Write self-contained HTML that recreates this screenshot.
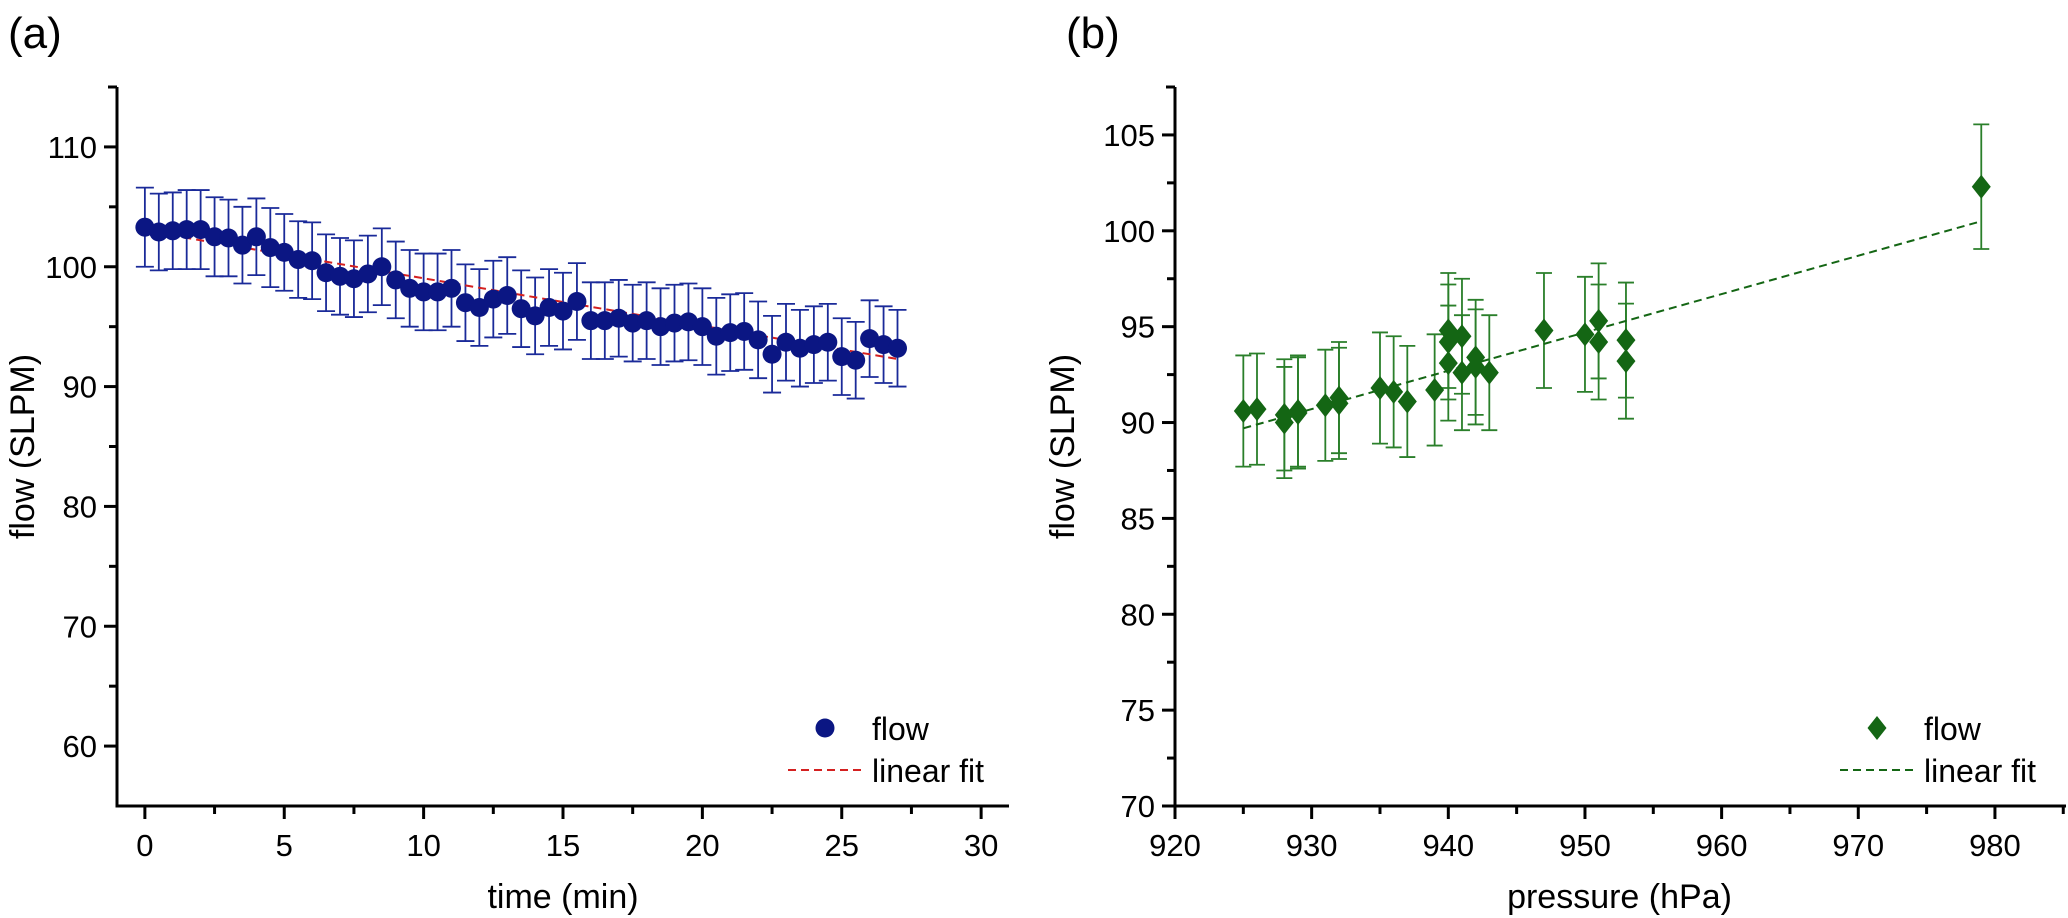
<!DOCTYPE html>
<html><head><meta charset="utf-8">
<style>
html,body{margin:0;padding:0;background:#fff}
svg{display:block;font-family:"Liberation Sans",Arial,sans-serif}
</style></head>
<body>
<svg id="chart" width="2068" height="918" viewBox="0 0 2068 918" xmlns="http://www.w3.org/2000/svg">
<text x="8" y="48" font-size="44">(a)</text>
<text x="1066" y="48" font-size="44">(b)</text>
<g id="pa"></g>
<g id="pb"></g>
</svg>
<script>
// Panel (a) data
const aTimes = [0,0.5,1,1.5,2,2.5,3,3.5,4,4.5,5,5.5,6,6.5,7,7.5,8,8.5,9,9.5,10,10.5,11,11.5,12,12.5,13,13.5,14,14.5,15,15.5,16,16.5,17,17.5,18,18.5,19,19.5,20,20.5,21,21.5,22,22.5,23,23.5,24,24.5,25,25.5,26,26.5,27];
const aFlow = [103.3,102.9,103.0,103.1,103.1,102.5,102.4,101.8,102.5,101.6,101.2,100.6,100.5,99.5,99.2,99.0,99.4,100.0,98.9,98.2,97.9,97.9,98.2,97.0,96.6,97.3,97.6,96.5,95.9,96.6,96.3,97.1,95.5,95.5,95.7,95.3,95.5,95.0,95.3,95.4,95.0,94.2,94.5,94.6,93.9,92.7,93.7,93.2,93.5,93.7,92.5,92.2,94.0,93.5,93.2];
const aErr = [3.3,3.2,3.2,3.3,3.3,3.3,3.2,3.2,3.2,3.3,3.2,3.2,3.2,3.2,3.2,3.2,3.2,3.2,3.2,3.2,3.2,3.2,3.2,3.2,3.2,3.2,3.2,3.2,3.2,3.2,3.2,3.2,3.2,3.2,3.2,3.2,3.2,3.2,3.2,3.2,3.2,3.2,3.2,3.2,3.2,3.2,3.2,3.2,3.2,3.2,3.2,3.2,3.2,3.2,3.2];
const aFitX = [0,27];
const aFitY = [103.0,92.3];
const aXTicks = [0,5,10,15,20,25,30];
const aYTicks = [60,70,80,90,100,110];

// Panel (b) data
const bPress = [925,926,928,928,929,929,931,932,932,935,936,937,939,940,940,940,941,941,942,942,943,947,950,951,951,953,953,979];
const bFlow = [90.6,90.7,90.0,90.4,90.5,90.6,90.9,91.0,91.3,91.8,91.6,91.1,91.7,94.8,94.2,93.1,94.5,92.6,93.4,92.9,92.6,94.8,94.6,95.3,94.2,94.3,93.2,102.3];
const bErr = [2.9,2.9,2.9,2.9,2.9,2.9,2.9,2.9,2.9,2.9,2.9,2.9,2.9,3.0,3.0,3.0,3.0,3.0,3.0,3.0,3.0,3.0,3.0,3.0,3.0,3.0,3.0,3.25];
const bFitX = [925,979];
const bFitY = [89.7,100.5];
const bXTicks = [920,930,940,950,960,970,980];
const bYTicks = [70,75,80,85,90,95,100,105];

const NS = "http://www.w3.org/2000/svg";
function mk(parent, tag, attrs, text){
  const e = document.createElementNS(NS, tag);
  for (const k in attrs) e.setAttribute(k, attrs[k]);
  if (text !== undefined) e.textContent = text;
  parent.appendChild(e);
  return e;
}

function drawPanel(g, cfg){
  const sx = v => cfg.x0 + (v - cfg.xmin) * (cfg.x1 - cfg.x0) / (cfg.xmax - cfg.xmin);
  const sy = v => cfg.y0 - (v - cfg.ymin) * (cfg.y0 - cfg.y1) / (cfg.ymax - cfg.ymin);
  const ya = mk(g, 'line', {x1:cfg.x0, y1:cfg.y1, x2:cfg.x0, y2:cfg.y0+1.5, stroke:'#000','stroke-width':3});
  
  
  const xa = mk(g, 'line', {x1:cfg.x0-1.5, y1:cfg.y0, x2:cfg.x1, y2:cfg.y0, stroke:'#000','stroke-width':3});
  
  
  mk(g, 'line', {x1:cfg.x0-9, y1:cfg.y1, x2:cfg.x0, y2:cfg.y1, stroke:'#000','stroke-width':3});
  cfg.yTicks.forEach((v,i) => {
    const y = sy(v);
    mk(g, 'line', {x1:cfg.x0-13, y1:y, x2:cfg.x0, y2:y, stroke:'#000','stroke-width':3});
    const t = mk(g, 'text', {x:cfg.x0-20, y:y+11, 'font-size':31, 'text-anchor':'end'}, String(v));
    
    
    const mv = v + cfg.yStep/2;
    if (mv < cfg.ymax) { const my = sy(mv); mk(g, 'line', {x1:cfg.x0-8, y1:my, x2:cfg.x0, y2:my, stroke:'#000','stroke-width':3}); }
    if (i===0 && v - cfg.yStep/2 > cfg.ymin) { const my = sy(v - cfg.yStep/2); mk(g, 'line', {x1:cfg.x0-8, y1:my, x2:cfg.x0, y2:my, stroke:'#000','stroke-width':3}); }
  });
  cfg.xTicks.forEach(v => {
    const x = sx(v);
    mk(g, 'line', {x1:x, y1:cfg.y0, x2:x, y2:cfg.y0+13, stroke:'#000','stroke-width':3});
    const t = mk(g, 'text', {x:x, y:cfg.y0+50, 'font-size':31, 'text-anchor':'middle'}, String(v));
    
    
    const mv = v + cfg.xStep/2;
    if (mv < cfg.xmax) { const mx = sx(mv); mk(g, 'line', {x1:mx, y1:cfg.y0, x2:mx, y2:cfg.y0+8, stroke:'#000','stroke-width':3}); }
  });
  const xt = mk(g, 'text', {x:(cfg.x0+cfg.x1)/2 + cfg.xtShift, y:908, 'font-size':34, 'text-anchor':'middle'}, cfg.xTitle);
  
  
  const yt = mk(g, 'text', {x:0, y:0, 'font-size':34, 'text-anchor':'middle', transform:`translate(${cfg.ytx},${sy((cfg.ymin+cfg.ymax)/2)}) rotate(-90)`}, 'flow (SLPM)');
  
  
  cfg.xs.forEach((xv,i) => {
    const x = sx(xv), yh = sy(cfg.ys[i]+cfg.err[i]), yl = sy(cfg.ys[i]-cfg.err[i]);
    const eb = mk(g, 'path', {d:`M${x},${yh}V${yl}M${x-cfg.cap},${yh}H${x+cfg.cap}M${x-cfg.cap},${yl}H${x+cfg.cap}`, stroke:cfg.errColor, 'stroke-width':1.8, fill:'none'});
    
    
  });
  const fl = mk(g, 'line', {x1:sx(cfg.fitX[0]), y1:sy(cfg.fitY[0]), x2:sx(cfg.fitX[1]), y2:sy(cfg.fitY[1]), stroke:cfg.fitColor, 'stroke-width':2, 'stroke-dasharray':'8,5'});
  
  
  cfg.xs.forEach((xv,i) => {
    const x = sx(xv), y = sy(cfg.ys[i]);
    let m;
    if (cfg.marker === 'circle') m = mk(g, 'ellipse', {cx:x, cy:y, rx:9.5, ry:9.5, fill:cfg.color});
    else m = mk(g, 'path', {d:`M${x},${y-12}L${x+9.5},${y}L${x},${y+12}L${x-9.5},${y}Z`, fill:cfg.color});
    
    
  });
  const lg = mk(g, 'g', {});
  
  
  const lx = cfg.legX, ly = 728;
  if (cfg.marker === 'circle') mk(lg, 'ellipse', {cx:lx, cy:ly, rx:9.5, ry:9.5, fill:cfg.color});
  else mk(lg, 'path', {d:`M${lx},${ly-12}L${lx+9.5},${ly}L${lx},${ly+12}L${lx-9.5},${ly}Z`, fill:cfg.color});
  mk(lg, 'text', {x:cfg.legTX, y:ly+12, 'font-size':32}, 'flow');
  mk(lg, 'line', {x1:cfg.legTX-84, y1:770, x2:cfg.legTX-6, y2:770, stroke:cfg.fitColor, 'stroke-width':2, 'stroke-dasharray':'8,5'});
  mk(lg, 'text', {x:cfg.legTX, y:782, 'font-size':32}, 'linear fit');
}

drawPanel(document.getElementById('pa'), {
  x0:117, x1:1009, y0:806, y1:87, xmin:-1, xmax:31, ymin:55, ymax:115,
  xStep:5, yStep:10, xTicks:aXTicks, yTicks:aYTicks,
  xs:aTimes, ys:aFlow, err:aErr, fitX:aFitX, fitY:aFitY,
  color:'#0b1683', errColor:'#1a2a99', fitColor:'#d42020', cap:9, marker:'circle',
  xTitle:'time (min)', xtShift:0, ytx:34, legX:825, legTX:872
});
drawPanel(document.getElementById('pb'), {
  x0:1175, x1:2066, y0:806, y1:87, xmin:920, xmax:985.2, ymin:70, ymax:107.5,
  xStep:10, yStep:5, xTicks:bXTicks, yTicks:bYTicks,
  xs:bPress, ys:bFlow, err:bErr, fitX:bFitX, fitY:bFitY,
  color:'#146614', errColor:'#2a7f2a', fitColor:'#146614', cap:8, marker:'diamond',
  xTitle:'pressure (hPa)', xtShift:-1, ytx:1074, legX:1877, legTX:1924
});
</script>
</body></html>
